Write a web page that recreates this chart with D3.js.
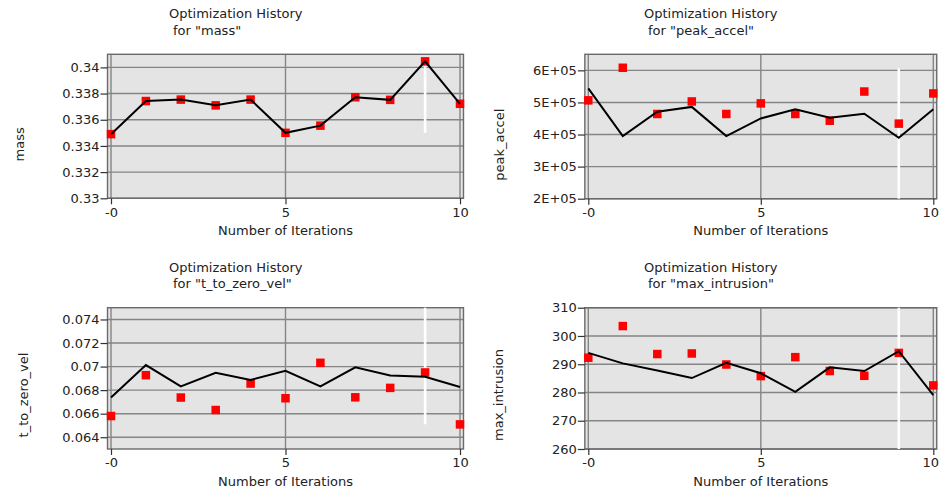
<!DOCTYPE html>
<html>
<head>
<meta charset="utf-8">
<script src="https://cdn.jsdelivr.net/npm/d3@7"></script>
<style>
  html, body { margin: 0; padding: 0; background: #fff; }
  svg { display: block; }
  text { font-family: "DejaVu Sans", sans-serif; font-size: 13px; fill: #222; }
</style>
</head>
<body>
<svg id="chart" width="940" height="490"></svg>
<script>
// Iteration index shared by all four histories
const iterations = [0, 1, 2, 3, 4, 5, 6, 7, 8, 9, 10];
const xTicks = [0, 5, 10];
const xTickLabels = ["-0", "5", "10"];

// mass
const massPoints = [0.3349, 0.33743, 0.33754, 0.3371, 0.33754, 0.3350, 0.33555, 0.33772, 0.33752, 0.34046, 0.33722];
const massLine   = [0.3349, 0.33743, 0.33754, 0.3371, 0.33754, 0.3350, 0.33555, 0.33772, 0.33752, 0.34046, 0.33722];
const massBest   = [0.3350, 0.34046];
const massTicks  = [0.33, 0.332, 0.334, 0.336, 0.338, 0.34];
const massTickLabels = ["0.33", "0.332", "0.334", "0.336", "0.338", "0.34"];

// peak_accel
const peakPoints = [5.065e5, 6.08e5, 4.64e5, 5.03e5, 4.64e5, 4.97e5, 4.64e5, 4.43e5, 5.34e5, 4.34e5, 5.28e5];
const peakLine   = [5.44e5, 3.95e5, 4.71e5, 4.86e5, 3.95e5, 4.50e5, 4.79e5, 4.52e5, 4.65e5, 3.90e5, 4.79e5];
const peakBest   = [2.0e5, 6.06e5];
const peakTicks  = [2e5, 3e5, 4e5, 5e5, 6e5];
const peakTickLabels = ["2E+05", "3E+05", "4E+05", "5E+05", "6E+05"];

// t_to_zero_vel
const tzvPoints = [0.0658, 0.06927, 0.06737, 0.06631, 0.06856, 0.06731, 0.07032, 0.06739, 0.06819, 0.0695, 0.06509];
const tzvLine   = [0.06737, 0.07013, 0.06831, 0.06947, 0.06887, 0.06964, 0.06831, 0.06993, 0.06925, 0.06913, 0.06827];
const tzvBest   = [0.0651, 0.075];
const tzvTicks  = [0.064, 0.066, 0.068, 0.07, 0.072, 0.074];
const tzvTickLabels = ["0.064", "0.066", "0.068", "0.07", "0.072", "0.074"];

// max_intrusion
const intrPoints = [292.3, 303.5, 293.6, 293.8, 289.9, 285.8, 292.5, 287.6, 285.9, 294.0, 282.5];
const intrLine   = [294.0, 290.3, 287.8, 285.1, 290.5, 286.8, 280.2, 288.9, 287.6, 294.6, 279.1];
const intrBest   = [260, 310];
const intrTicks  = [260, 270, 280, 290, 300, 310];
const intrTickLabels = ["260", "270", "280", "290", "300", "310"];

const bestIteration = 9;

const panels = [
  { name: "mass", points: massPoints, line: massLine, best: massBest, ticks: massTicks, tickLabels: massTickLabels,
    yDomain: [0.33, 0.341],
    box: { x0: 111, x10: 460, top: 54.3, bottom: 198.3, titleX: 169, titleY: 18.3, ylabX: 19.5 } },
  { name: "peak_accel", points: peakPoints, line: peakLine, best: peakBest, ticks: peakTicks, tickLabels: peakTickLabels,
    yDomain: [2e5, 6.5e5],
    box: { x0: 588.3, x10: 933.3, top: 54.3, bottom: 198.7, titleX: 644, titleY: 18.3, ylabX: 499 } },
  { name: "t_to_zero_vel", points: tzvPoints, line: tzvLine, best: tzvBest, ticks: tzvTicks, tickLabels: tzvTickLabels,
    yDomain: [0.063, 0.075],
    box: { x0: 111, x10: 460, top: 307.7, bottom: 449, titleX: 169, titleY: 271.7, ylabX: 23 } },
  { name: "max_intrusion", points: intrPoints, line: intrLine, best: intrBest, ticks: intrTicks, tickLabels: intrTickLabels,
    yDomain: [260, 310],
    box: { x0: 588.3, x10: 933.3, top: 307.7, bottom: 449, titleX: 644, titleY: 271.7, ylabX: 498.5 } }
];

const svg = d3.select("#chart");
const svgWidth = +svg.attr("width");

panels.forEach(p => {
  const b = p.box;
  const unit = (b.x10 - b.x0) / 10;
  const x = d3.scaleLinear().domain([-0.1, 10.1]).range([b.x0 - 0.1 * unit, b.x10 + 0.1 * unit]);
  const y = d3.scaleLinear().domain(p.yDomain).range([b.bottom, b.top]);
  const [left, right] = x.range();

  const g = svg.append("g");

  // plot background
  g.append("rect")
    .attr("x", left).attr("y", b.top)
    .attr("width", right - left).attr("height", b.bottom - b.top)
    .attr("fill", "#e4e4e4");

  // horizontal grid lines
  g.selectAll(".hgrid").data(p.ticks).join("line")
    .attr("x1", left).attr("x2", right)
    .attr("y1", d => y(d)).attr("y2", d => y(d))
    .attr("stroke", "#858585").attr("stroke-width", 1.4);

  // vertical grid lines
  g.selectAll(".vgrid").data(xTicks).join("line")
    .attr("x1", d => x(d)).attr("x2", d => x(d))
    .attr("y1", b.top).attr("y2", b.bottom)
    .attr("stroke", "#858585").attr("stroke-width", 1.4);

  // frame
  g.append("rect")
    .attr("x", left).attr("y", b.top)
    .attr("width", right - left).attr("height", b.bottom - b.top)
    .attr("fill", "none").attr("stroke", "#6a6a6a").attr("stroke-width", 1.4);

  // y axis
  const yAxis = d3.axisLeft(y).tickValues(p.ticks)
    .tickFormat((d, i) => p.tickLabels[i]).tickSize(7).tickPadding(1);
  const ya = g.append("g").attr("transform", `translate(${left},0)`).call(yAxis);
  ya.select(".domain").remove();
  ya.selectAll("line").attr("stroke", "#333").attr("stroke-width", 1.2);
  ya.selectAll("text").style("font-family", "DejaVu Sans, sans-serif").style("font-size", "13px").attr("fill", "#222");

  // x axis
  const xAxis = d3.axisBottom(x).tickValues(xTicks)
    .tickFormat((d, i) => xTickLabels[i]).tickSize(6).tickPadding(3);
  const xa = g.append("g").attr("transform", `translate(0,${b.bottom})`).call(xAxis);
  xa.select(".domain").remove();
  xa.selectAll("line").attr("stroke", "#333").attr("stroke-width", 1.2);
  xa.selectAll("text").style("font-family", "DejaVu Sans, sans-serif").style("font-size", "13px").attr("fill", "#222");
  // keep the last tick label inside the page
  xa.selectAll(".tick").each(function () {
    const t = d3.select(this).select("text");
    const box = t.node().getBBox();
    const tr = this.transform.baseVal.consolidate();
    const tx = tr ? tr.matrix.e : 0;
    const overflow = tx + box.x + box.width - (svgWidth - 1);
    if (overflow > 0) t.attr("x", -overflow);
  });

  // best-iteration marker
  g.append("line")
    .attr("x1", x(bestIteration)).attr("x2", x(bestIteration))
    .attr("y1", y(p.best[0])).attr("y2", y(p.best[1]))
    .attr("stroke", "#ffffff").attr("stroke-width", 2.6);

  // sampled values
  const sq = 8.5;
  g.selectAll(".pt").data(p.points).join("rect")
    .attr("x", (d, i) => x(iterations[i]) - sq / 2)
    .attr("y", d => y(d) - sq / 2)
    .attr("width", sq).attr("height", sq)
    .attr("fill", "#ff0000");

  // history line
  const lineGen = d3.line().x((d, i) => x(iterations[i])).y(d => y(d));
  g.append("path").datum(p.line)
    .attr("d", lineGen)
    .attr("fill", "none").attr("stroke", "#000").attr("stroke-width", 2)
    .attr("stroke-linejoin", "miter");

  // title
  g.append("text").attr("x", b.titleX).attr("y", b.titleY).text("Optimization History");
  g.append("text").attr("x", b.titleX + 4).attr("y", b.titleY + 16.7).text(`for "${p.name}"`);

  // axis titles
  g.append("text")
    .attr("x", (left + right) / 2).attr("y", b.bottom + 36.5)
    .attr("text-anchor", "middle").text("Number of Iterations");
  g.append("text")
    .attr("transform", `translate(${b.ylabX},${b.bottom - 54}) rotate(-90)`)
    .attr("text-anchor", "middle").attr("dominant-baseline", "central")
    .text(p.name);
});
</script>
</body>
</html>
